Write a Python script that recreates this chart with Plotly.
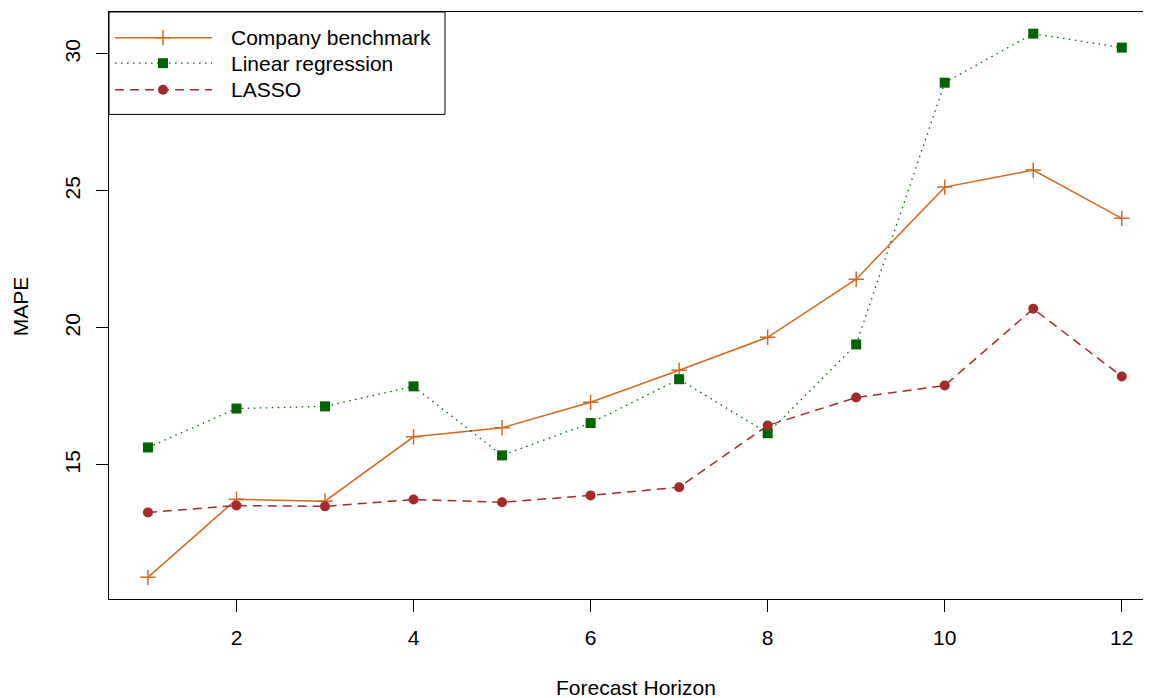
import plotly.graph_objects as go

horizon = [1, 2, 3, 4, 5, 6, 7, 8, 9, 10, 11, 12]
company_benchmark = [10.90, 13.75, 13.68, 16.03, 16.36, 17.29, 18.46, 19.66, 21.78, 25.14, 25.76, 24.00]
linear_regression = [15.64, 17.06, 17.14, 17.87, 15.35, 16.53, 18.13, 16.16, 19.40, 28.95, 30.74, 30.23]
lasso = [13.27, 13.52, 13.49, 13.74, 13.64, 13.89, 14.19, 16.44, 17.46, 17.90, 20.70, 18.23]

x_ticks = [2, 4, 6, 8, 10, 12]
y_ticks = [15, 20, 25, 30]
series_names = ["Company benchmark", "Linear regression", "LASSO"]

C_ORANGE = "#D2691E"
C_GREEN = "#006400"
C_BROWN = "#A52A2A"
FONT = "Liberation Sans, Arial, Helvetica, sans-serif"
DOT = "1.5px,4.5px"
DASH = "9px,6px"

# page body has an 8px default margin; compensate so that the plot lands where the reference has it
OFF = 8
W, H = 1143, 690
ML, MR, MT, MB = 101, 0, 3.5, 99
PW = W - ML - MR
PH = H - MT - MB


def px(x):
    # window pixel -> paper x
    return (x - OFF - ML) / PW


def py(y):
    # window pixel -> paper y
    return 1 - (y - OFF - MT) / PH


fig = go.Figure()
fig.add_trace(go.Scatter(
    x=horizon, y=company_benchmark, mode="lines+markers", name=series_names[0],
    line=dict(color=C_ORANGE, width=1.5),
    marker=dict(symbol="cross-thin", size=11, color=C_ORANGE,
                line=dict(color=C_ORANGE, width=1.5)),
    showlegend=False))
fig.add_trace(go.Scatter(
    x=horizon, y=linear_regression, mode="lines+markers", name=series_names[1],
    line=dict(color=C_GREEN, width=1.3, dash=DOT),
    marker=dict(symbol="square", size=10, color=C_GREEN),
    showlegend=False))
fig.add_trace(go.Scatter(
    x=horizon, y=lasso, mode="lines+markers", name=series_names[2],
    line=dict(color=C_BROWN, width=1.5, dash=DASH),
    marker=dict(symbol="circle", size=10, color=C_BROWN),
    showlegend=False))

shapes = []
annotations = []
# legend box
shapes.append(dict(type="rect", xref="paper", yref="paper",
                   x0=px(109), x1=px(445), y0=py(114), y1=py(11.5),
                   line=dict(color="black", width=1), fillcolor="white", layer="above"))
rows = [37.3, 62.7, 89.3]
colors = [C_ORANGE, C_GREEN, C_BROWN]
dashes = ["solid", DOT, DASH]
widths = [1.5, 1.3, 1.5]
for i in range(3):
    yy = rows[i]
    shapes.append(dict(type="line", xref="paper", yref="paper",
                       x0=px(115), x1=px(212), y0=py(yy), y1=py(yy),
                       line=dict(color=colors[i], width=widths[i], dash=dashes[i]), layer="above"))
    annotations.append(dict(text=series_names[i], xref="paper", yref="paper",
                            x=px(229), y=py(yy), xanchor="left", yanchor="middle",
                            showarrow=False, font=dict(family=FONT, size=21, color="black")))
# legend markers
mx = 163
shapes.append(dict(type="line", xref="paper", yref="paper", x0=px(mx - 7.5), x1=px(mx + 7.5),
                   y0=py(rows[0]), y1=py(rows[0]), line=dict(color=C_ORANGE, width=1.5), layer="above"))
shapes.append(dict(type="line", xref="paper", yref="paper", x0=px(mx), x1=px(mx),
                   y0=py(rows[0] - 7.5), y1=py(rows[0] + 7.5), line=dict(color=C_ORANGE, width=1.5), layer="above"))
shapes.append(dict(type="rect", xref="paper", yref="paper", x0=px(mx - 5), x1=px(mx + 5),
                   y0=py(rows[1] + 5), y1=py(rows[1] - 5), line=dict(width=0), fillcolor=C_GREEN, layer="above"))
shapes.append(dict(type="circle", xref="paper", yref="paper", x0=px(mx - 5), x1=px(mx + 5),
                   y0=py(rows[2] + 5), y1=py(rows[2] - 5), line=dict(width=0), fillcolor=C_BROWN, layer="above"))

# axis titles
annotations.append(dict(text="Forecast Horizon", xref="paper", yref="paper",
                        x=px(635.5), y=py(688), xanchor="center", yanchor="middle",
                        showarrow=False, font=dict(family=FONT, size=21, color="black")))
annotations.append(dict(text="MAPE", xref="paper", yref="paper",
                        x=px(20), y=py(306), xanchor="center", yanchor="middle", textangle=-90,
                        showarrow=False, font=dict(family=FONT, size=21, color="black")))

fig.update_layout(
    width=W, height=H,
    margin=dict(l=ML, r=MR, t=MT, b=MB, pad=0),
    paper_bgcolor="white", plot_bgcolor="white",
    font=dict(family=FONT, size=21, color="black"),
    shapes=shapes, annotations=annotations,
    showlegend=False,
)
fig.update_xaxes(range=[0.56, 12.33], tickvals=x_ticks, ticktext=[str(v) for v in x_ticks],
                 showgrid=False, zeroline=False, showline=True, linecolor="black", linewidth=1,
                 mirror=True, ticks="outside", ticklen=12, tickcolor="black", tickwidth=1,
                 tickfont=dict(family=FONT, size=21, color="black"), ticklabelstandoff=8)
fig.update_yaxes(range=[10.11, 31.53], tickvals=y_ticks, ticktext=[str(v) for v in y_ticks],
                 showgrid=False, zeroline=False, showline=True, linecolor="black", linewidth=1,
                 mirror=False, ticks="outside", ticklen=12, tickcolor="black", tickwidth=1,
                 tickangle=-90, tickfont=dict(family=FONT, size=21, color="black"), ticklabelstandoff=8)

fig.write_html("out.html")
